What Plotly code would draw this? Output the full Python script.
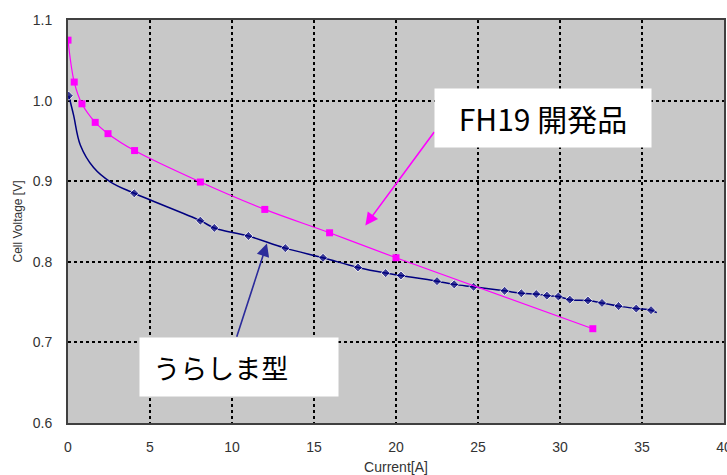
import plotly.graph_objects as go

# FH19 開発品 (magenta)
fh19_current = [0.0, 0.38, 0.85, 1.66, 2.44, 4.06, 8.07, 12.0, 15.95, 20.0, 32.0]
fh19_voltage = [1.075, 1.023, 0.996, 0.973, 0.959, 0.938, 0.899, 0.865, 0.836, 0.805, 0.717]

# うらしま型 (navy)
ura_current = [0.05, 0.34, 0.75, 1.56, 2.6, 4.04, 8.07, 8.92, 11.0, 13.25, 15.55, 17.68,
               19.37, 20.3, 22.5, 23.55, 24.73, 26.62, 27.64, 28.55, 29.2, 29.9, 30.6,
               31.7, 32.56, 33.57, 34.65, 35.55, 35.9]
ura_voltage = [1.006, 0.982, 0.945, 0.917, 0.899, 0.885, 0.851, 0.842, 0.832, 0.817, 0.805, 0.793,
               0.786, 0.783, 0.776, 0.772, 0.769, 0.764, 0.761, 0.760, 0.758, 0.757, 0.753,
               0.752, 0.749, 0.745, 0.742, 0.740, 0.737]
ura_marked = [True, False, False, False, False, True, True, True, True, True, True, True,
              True, True, True, True, True, True, True, True, True, True, True,
              True, True, True, True, True, False]

x_ticks = [0, 5, 10, 15, 20, 25, 30, 35, 40]
y_ticks = [0.6, 0.7, 0.8, 0.9, 1.0, 1.1]

label_fh19 = "FH19 開発品"
label_ura = "うらしま型"

fig = go.Figure()

fig.add_trace(go.Scatter(
    x=ura_current, y=ura_voltage, mode="lines+markers",
    line=dict(color="#000080", width=1.5, shape="spline", smoothing=1.0),
    marker=dict(symbol="diamond", size=[7 if m else 0 for m in ura_marked], color="#000080"),
    showlegend=False))

fig.add_trace(go.Scatter(
    x=fh19_current, y=fh19_voltage, mode="lines+markers",
    line=dict(color="#ff00ff", width=1.2, shape="spline", smoothing=1.0),
    marker=dict(symbol="square", size=7, color="#ff00ff"),
    showlegend=False))

cjk = "Noto Sans CJK JP"

# arrows
fig.add_annotation(x=18.13, y=0.845, ax=22.4, ay=0.963, xref="x", yref="y", axref="x", ayref="y",
                   text="", showarrow=True, arrowhead=2, arrowsize=1.6, arrowwidth=1.6,
                   arrowcolor="#ff00ff")
fig.add_annotation(x=12.13, y=0.8227, ax=10.26, ay=0.705, xref="x", yref="y", axref="x", ayref="y",
                   text="", showarrow=True, arrowhead=2, arrowsize=1.6, arrowwidth=1.6,
                   arrowcolor="#2b2b9b")

# labels
fig.add_annotation(x=28.98, y=0.979, xref="x", yref="y", text=label_fh19, showarrow=False,
                   font=dict(family=cjk, size=30, color="#000000"),
                   bgcolor="#ffffff", width=216, height=58, borderpad=0, align="center")
fig.add_annotation(x=10.44, y=0.6694, xref="x", yref="y", text=label_ura + "&nbsp;" * 6, showarrow=False,
                   font=dict(family=cjk, size=27, color="#000000"),
                   bgcolor="#ffffff", width=198, height=58, borderpad=0, align="center")

axis_font = dict(family="Liberation Sans, Arial, sans-serif", size=14, color="#333333")

fig.update_xaxes(range=[0, 40], tickvals=x_ticks, ticktext=[str(v) for v in x_ticks],
                 showgrid=True, gridcolor="#000000", gridwidth=1.5, griddash="3px,3px",
                 zeroline=False, showline=True, linecolor="#404040", linewidth=2, mirror=True,
                 ticks="", ticklabelstandoff=10, ticklabeloverflow="allow", tickfont=axis_font,
                 automargin=False,
                 title=dict(text="Current[A]", font=dict(family="Liberation Sans, Arial, sans-serif",
                                                         size=14, color="#333333"), standoff=12))
fig.update_yaxes(range=[0.6, 1.1], tickvals=y_ticks, ticktext=[f"{v:.1f}" for v in y_ticks],
                 showgrid=True, gridcolor="#000000", gridwidth=1.5, griddash="3px,3px",
                 zeroline=False, showline=True, linecolor="#404040", linewidth=2, mirror=True,
                 ticks="", ticklabelstandoff=11, ticklabeloverflow="allow", tickfont=axis_font,
                 automargin=False,
                 title=dict(text="Cell Voltage [V]", font=dict(family="Liberation Sans, Arial, sans-serif",
                                                               size=12, color="#333333"), standoff=8))

fig.update_layout(width=727, height=475, margin=dict(l=68, r=3, t=20, b=52),
                  plot_bgcolor="#c8c8c8", paper_bgcolor="#ffffff")

fig.write_html("out.html", config={"displayModeBar": False},
               post_script="document.body.style.margin='0';document.body.style.overflow='hidden';")
